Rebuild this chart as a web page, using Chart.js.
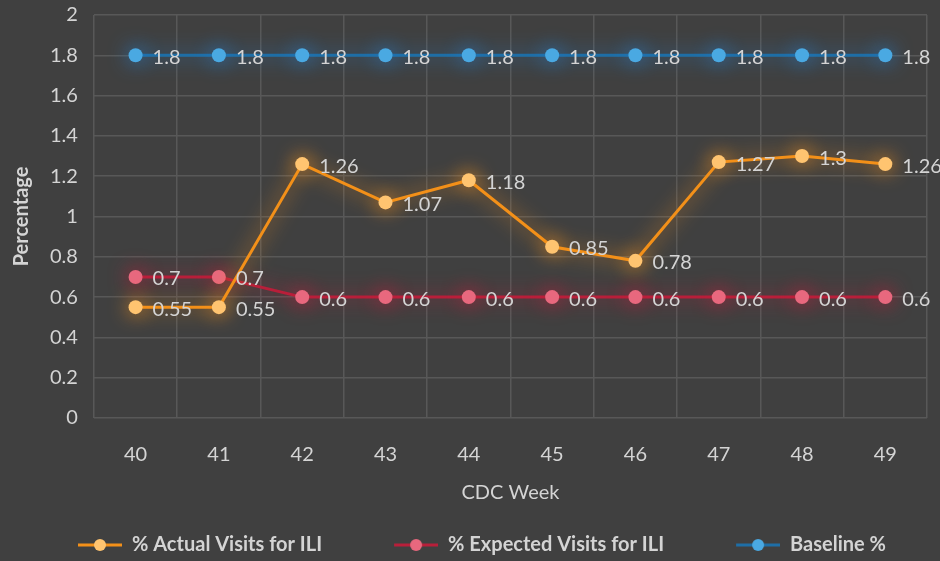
<!DOCTYPE html>
<html>
<head>
<meta charset="utf-8">
<script src="https://cdn.jsdelivr.net/npm/chart.js@4/dist/chart.umd.min.js"></script>
<style>
  html, body { margin: 0; padding: 0; background: #404040; }
  #wrap { width: 940px; height: 561px; }
</style>
</head>
<body>
<div id="wrap"><canvas id="lineChart"></canvas></div>
<script>
const weeks = ['40', '41', '42', '43', '44', '45', '46', '47', '48', '49'];
const actualVisits = [0.55, 0.55, 1.26, 1.07, 1.18, 0.85, 0.78, 1.27, 1.3, 1.26];
const expectedVisits = [0.7, 0.7, 0.6, 0.6, 0.6, 0.6, 0.6, 0.6, 0.6, 0.6];
const baseline = [1.8, 1.8, 1.8, 1.8, 1.8, 1.8, 1.8, 1.8, 1.8, 1.8];

const FONT = "Lato, 'Noto Sans', sans-serif";
const TEXT = '#d4d4d4';
const LEGEND_GAP = 72;

// line+dot icon for the legend, blank space on the left acts as gap between items
const legendIcon = (line, dot) => {
    const c = document.createElement('canvas');
    c.width = 44 + LEGEND_GAP; c.height = 16;
    const g = c.getContext('2d');
    g.strokeStyle = line; g.lineWidth = 3;
    g.beginPath(); g.moveTo(LEGEND_GAP, 8); g.lineTo(LEGEND_GAP + 44, 8); g.stroke();
    g.fillStyle = dot;
    g.beginPath(); g.arc(LEGEND_GAP + 22, 8, 6, 0, Math.PI * 2); g.fill();
    return c;
};

// soft glow behind each series
const glow = {
    id: 'glow',
    beforeDatasetDraw(chart, args) {
        const ds = chart.data.datasets[args.index];
        chart.ctx.save();
        chart.ctx.shadowColor = ds.glowColor;
        chart.ctx.shadowBlur = 20;
    },
    afterDatasetDraw(chart) {
        chart.ctx.restore();
    }
};

// nudge the legend a few px lower, closer to the bottom edge
const legendNudge = {
    id: 'legendNudge',
    afterLayout(chart) {
        chart.legend.top += 4;
        chart.legend.bottom += 4;
    }
};

// value labels to the right of each point
const valueLabels = {
    id: 'valueLabels',
    afterDatasetsDraw(chart) {
        const ctx = chart.ctx;
        ctx.save();
        ctx.font = '20px ' + FONT;
        ctx.fillStyle = TEXT;
        ctx.textAlign = 'left';
        ctx.textBaseline = 'middle';
        chart.data.datasets.forEach((ds, i) => {
            chart.getDatasetMeta(i).data.forEach((pt, j) => {
                ctx.fillText(String(ds.data[j]), pt.x + 17, pt.y + 2);
            });
        });
        ctx.restore();
    }
};

const data = {
    labels: weeks,
    datasets: [
        {
            label: '% Actual Visits for ILI',
            data: actualVisits,
            borderColor: '#f39019',
            backgroundColor: '#ffc470',
            pointBackgroundColor: '#ffc470',
            glowColor: 'rgba(255,150,30,1)',
            borderWidth: 3,
            pointRadius: 7,
            pointBorderWidth: 0,
            tension: 0,
            order: 1,
            legendIcon: legendIcon('#f39019', '#ffc470'),
        },
        {
            label: '% Expected Visits for ILI',
            data: expectedVisits,
            borderColor: '#b81f3a',
            backgroundColor: '#e8687e',
            pointBackgroundColor: '#e8687e',
            glowColor: 'rgba(200,30,60,1)',
            borderWidth: 3,
            pointRadius: 7,
            pointBorderWidth: 0,
            tension: 0,
            order: 2,
            legendIcon: legendIcon('#b81f3a', '#e8687e'),
        },
        {
            label: 'Baseline %',
            data: baseline,
            borderColor: '#1e6ea6',
            backgroundColor: '#4aa9e2',
            pointBackgroundColor: '#4aa9e2',
            glowColor: 'rgba(40,130,210,1)',
            borderWidth: 3,
            pointRadius: 7,
            pointBorderWidth: 0,
            tension: 0,
            order: 3,
            legendIcon: legendIcon('#1e6ea6', '#4aa9e2'),
        },
    ],
};

const config = {
    type: 'line',
    data: data,
    plugins: [glow, valueLabels, legendNudge],
    options: {
        responsive: true,
        maintainAspectRatio: false,
        animation: false,
        layout: { padding: { left: 6, right: 13, top: 0, bottom: 0 } },
        scales: {
            x: {
                offset: true,
                grid: { offset: true, color: '#585858', lineWidth: 1.5, drawTicks: false },
                border: { display: false },
                ticks: { color: TEXT, font: { family: FONT, size: 20 }, padding: 25 },
                title: { display: true, text: 'CDC Week', color: TEXT, font: { family: FONT, size: 20 }, padding: { top: 0, bottom: 26 } },
                afterFit: (scale) => { scale.height = 113; },
            },
            y: {
                min: 0,
                max: 2,
                ticks: {
                    stepSize: 0.2,
                    color: TEXT,
                    font: { family: FONT, size: 20 },
                    padding: 16,
                    callback: (v) => String(Math.round(v * 10) / 10),
                },
                grid: { color: '#585858', lineWidth: 1.5, drawTicks: false },
                border: { display: false },
                title: { display: true, text: 'Percentage', color: TEXT, font: { family: FONT, size: 20, weight: 'bold' }, padding: { top: 4, bottom: 0 } },
                afterFit: (scale) => { scale.paddingTop = 15; },
            },
        },
        plugins: {
            legend: {
                position: 'bottom',
                align: 'start',
                labels: {
                    usePointStyle: true,
                    pointStyleWidth: 44 + LEGEND_GAP,
                    color: TEXT,
                    font: { family: FONT, size: 20, weight: 'bold', lineHeight: 1 },
                    padding: 0,
                    generateLabels(chart) {
                        return chart.data.datasets.map((ds, i) => ({
                            text: ds.label,
                            pointStyle: ds.legendIcon,
                            fontColor: TEXT,
                            hidden: false,
                            datasetIndex: i,
                            lineWidth: 0,
                            strokeStyle: 'transparent',
                            fillStyle: 'transparent',
                        }));
                    },
                },
            },
            tooltip: { enabled: false },
        },
    },
};

new Chart(document.getElementById('lineChart'), config);
</script>
</body>
</html>
